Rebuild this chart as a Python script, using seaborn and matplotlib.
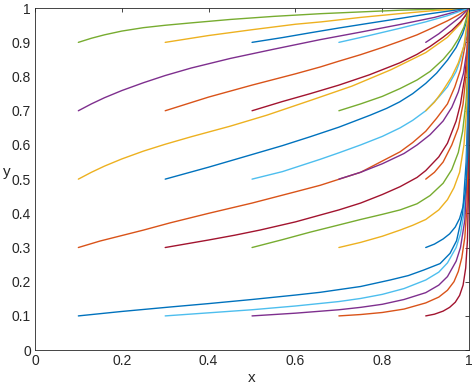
import numpy as np
import pandas as pd
import matplotlib
matplotlib.use("Agg")
import matplotlib.pyplot as plt
import seaborn as sns

# curves, ordered by start x then start y
curves_x = [
    # x0 = 0.1
    [0.1, 0.2, 0.311, 0.4, 0.5, 0.6, 0.657, 0.75, 0.818, 0.86, 0.895, 0.933, 0.956, 0.971, 0.985, 0.993, 0.998, 1.0],
    [0.1, 0.15, 0.2, 0.25, 0.311, 0.4, 0.5, 0.6, 0.657, 0.75, 0.841, 0.87, 0.9, 0.925, 0.95, 0.967, 0.98, 0.995, 1.0],
    [0.1, 0.13, 0.16, 0.2, 0.25, 0.3, 0.36, 0.45, 0.534, 0.634, 0.73, 0.82, 0.9, 0.95, 0.98, 1.0],
    [0.1, 0.13, 0.16, 0.2, 0.25, 0.3, 0.36, 0.45, 0.55, 0.657, 0.75, 0.84, 0.92, 1.0],
    [0.1, 0.13, 0.16, 0.2, 0.25, 0.3, 0.36, 0.45, 0.55, 0.66, 0.75, 0.84, 0.92, 1.0],
    # x0 = 0.3
    [0.3, 0.4, 0.5, 0.6, 0.7, 0.75, 0.8, 0.85, 0.9, 0.93, 0.95, 0.97, 0.98, 0.988, 0.994, 0.998, 1.0],
    [0.3, 0.35, 0.4, 0.46, 0.518, 0.6, 0.657, 0.7, 0.75, 0.8, 0.841, 0.88, 0.9, 0.93, 0.95, 0.97, 0.98, 0.99, 0.996, 1.0],
    [0.3, 0.4, 0.5, 0.57, 0.634, 0.7, 0.772, 0.81, 0.84, 0.87, 0.9, 0.925, 0.95, 0.97, 0.985, 0.995, 1.0],
    [0.3, 0.4, 0.5, 0.6, 0.657, 0.7, 0.75, 0.8, 0.84, 0.88, 0.92, 0.95, 0.975, 1.0],
    [0.3, 0.4, 0.5, 0.6, 0.66, 0.75, 0.84, 0.92, 1.0],
    # x0 = 0.5
    [0.5, 0.6, 0.7, 0.75, 0.8, 0.85, 0.9, 0.93, 0.95, 0.97, 0.98, 0.99, 0.995, 0.999, 1.0],
    [0.5, 0.57, 0.634, 0.7, 0.75, 0.8, 0.841, 0.88, 0.91, 0.94, 0.96, 0.975, 0.985, 0.993, 0.998, 1.0],
    [0.5, 0.57, 0.657, 0.7, 0.75, 0.8, 0.841, 0.87, 0.9, 0.93, 0.95, 0.97, 0.98, 0.99, 0.997, 1.0],
    [0.5, 0.57, 0.634, 0.7, 0.77, 0.84, 0.88, 0.91, 0.94, 0.96, 0.98, 0.993, 1.0],
    [0.5, 0.57, 0.634, 0.7, 0.77, 0.841, 0.9, 0.95, 1.0],
    # x0 = 0.7
    [0.7, 0.75, 0.8, 0.85, 0.9, 0.93, 0.95, 0.965, 0.975, 0.983, 0.99, 0.995, 0.998, 1.0],
    [0.7, 0.75, 0.8, 0.841, 0.87, 0.9, 0.93, 0.95, 0.965, 0.978, 0.988, 0.995, 0.999, 1.0],
    [0.7, 0.75, 0.8, 0.85, 0.88, 0.91, 0.94, 0.96, 0.975, 0.987, 0.995, 1.0],
    [0.7, 0.75, 0.8, 0.841, 0.88, 0.91, 0.94, 0.96, 0.975, 0.988, 1.0],
    [0.7, 0.77, 0.84, 0.9, 0.95, 1.0],
    # x0 = 0.9
    [0.9, 0.92, 0.94, 0.955, 0.968, 0.978, 0.986, 0.992, 0.996, 0.999, 1.0],
    [0.9, 0.92, 0.94, 0.955, 0.968, 0.978, 0.986, 0.992, 0.997, 1.0],
    [0.9, 0.92, 0.94, 0.96, 0.975, 0.986, 0.994, 1.0],
    [0.9, 0.92, 0.94, 0.96, 0.975, 0.988, 1.0],
    [0.9, 0.93, 0.96, 0.98, 1.0],
]
curves_y = [
    [0.1, 0.113, 0.126, 0.136, 0.148, 0.161, 0.169, 0.186, 0.205, 0.218, 0.234, 0.253, 0.283, 0.32, 0.4, 0.55, 0.75, 1.0],
    [0.3, 0.319, 0.335, 0.351, 0.372, 0.4, 0.43, 0.463, 0.482, 0.52, 0.58, 0.607, 0.64, 0.678, 0.72, 0.77, 0.82, 0.92, 1.0],
    [0.5, 0.52, 0.538, 0.559, 0.582, 0.602, 0.624, 0.655, 0.687, 0.73, 0.772, 0.82, 0.87, 0.915, 0.955, 1.0],
    [0.7, 0.72, 0.738, 0.759, 0.782, 0.803, 0.825, 0.853, 0.88, 0.908, 0.93, 0.952, 0.973, 1.0],
    [0.9, 0.912, 0.922, 0.933, 0.943, 0.95, 0.957, 0.967, 0.976, 0.984, 0.989, 0.994, 0.997, 1.0],
    [0.1, 0.109, 0.118, 0.129, 0.142, 0.151, 0.163, 0.18, 0.205, 0.228, 0.255, 0.3, 0.34, 0.4, 0.5, 0.7, 1.0],
    [0.3, 0.311, 0.322, 0.336, 0.351, 0.375, 0.395, 0.41, 0.43, 0.455, 0.478, 0.505, 0.525, 0.565, 0.605, 0.67, 0.72, 0.8, 0.88, 1.0],
    [0.5, 0.535, 0.572, 0.598, 0.624, 0.652, 0.687, 0.707, 0.726, 0.75, 0.78, 0.81, 0.848, 0.885, 0.925, 0.965, 1.0],
    [0.7, 0.74, 0.775, 0.808, 0.828, 0.845, 0.864, 0.885, 0.903, 0.922, 0.945, 0.963, 0.98, 1.0],
    [0.9, 0.92, 0.937, 0.953, 0.96, 0.973, 0.984, 0.993, 1.0],
    [0.1, 0.108, 0.118, 0.125, 0.134, 0.148, 0.168, 0.19, 0.215, 0.26, 0.3, 0.38, 0.5, 0.7, 1.0],
    [0.3, 0.323, 0.345, 0.366, 0.382, 0.397, 0.41, 0.428, 0.452, 0.488, 0.528, 0.578, 0.64, 0.73, 0.85, 1.0],
    [0.5, 0.522, 0.558, 0.577, 0.6, 0.625, 0.65, 0.672, 0.7, 0.74, 0.77, 0.815, 0.85, 0.9, 0.95, 1.0],
    [0.7, 0.727, 0.75, 0.775, 0.805, 0.84, 0.865, 0.888, 0.915, 0.935, 0.96, 0.98, 1.0],
    [0.9, 0.914, 0.928, 0.942, 0.956, 0.97, 0.982, 0.991, 1.0],
    [0.1, 0.104, 0.11, 0.12, 0.138, 0.155, 0.175, 0.2, 0.23, 0.27, 0.33, 0.42, 0.6, 1.0],
    [0.3, 0.315, 0.333, 0.351, 0.365, 0.382, 0.41, 0.44, 0.475, 0.52, 0.6, 0.72, 0.87, 1.0],
    [0.5, 0.52, 0.545, 0.575, 0.6, 0.63, 0.67, 0.71, 0.755, 0.81, 0.88, 1.0],
    [0.7, 0.72, 0.742, 0.765, 0.79, 0.815, 0.85, 0.88, 0.91, 0.945, 1.0],
    [0.9, 0.92, 0.941, 0.96, 0.978, 1.0],
    [0.1, 0.105, 0.114, 0.125, 0.14, 0.16, 0.19, 0.24, 0.32, 0.5, 1.0],
    [0.3, 0.31, 0.325, 0.34, 0.36, 0.385, 0.42, 0.47, 0.58, 1.0],
    [0.5, 0.52, 0.55, 0.6, 0.65, 0.72, 0.82, 1.0],
    [0.7, 0.725, 0.76, 0.8, 0.84, 0.89, 1.0],
    [0.9, 0.925, 0.955, 0.975, 1.0],
]

matlab_colors = ["#0072BD", "#D95319", "#EDB120", "#7E2F8E",
                 "#77AC30", "#4DBEEE", "#A2142F"]

rows = []
for i, (xs, ys) in enumerate(zip(curves_x, curves_y)):
    for order, (xv, yv) in enumerate(zip(xs, ys)):
        rows.append({"curve": i, "order": order, "x": xv, "y": yv})
df = pd.DataFrame(rows)
palette = [matlab_colors[i % 7] for i in range(len(curves_x))]

sns.set_style("white")
plt.rcParams["font.family"] = ["Liberation Sans", "DejaVu Sans"]

fig = plt.figure(figsize=(4.72, 3.89), dpi=100)
ax = fig.add_axes([0.074, 0.10, 0.920, 0.879])
sns.lineplot(data=df, x="x", y="y", hue="curve", units="curve", palette=palette,
             sort=False, estimator=None, legend=False, linewidth=1.0, ax=ax)

ax.set_xlim(0, 1)
ax.set_ylim(0, 1)
ax.set_xticks(np.arange(0, 1.01, 0.2))
ax.set_xticklabels(["0", "0.2", "0.4", "0.6", "0.8", "1"])
ax.set_yticks(np.arange(0, 1.01, 0.1))
ax.set_yticklabels(["0", "0.1", "0.2", "0.3", "0.4", "0.5", "0.6", "0.7", "0.8", "0.9", "1"])
ax.tick_params(direction="in", length=3, width=0.6, top=True, right=True,
               labelsize=10, colors="#262626", pad=3)
for s in ax.spines.values():
    s.set_color("#262626")
    s.set_linewidth(0.6)
ax.set_xlabel("x", fontsize=11, color="#262626", labelpad=2)
ax.set_ylabel("y", fontsize=11, color="#262626", rotation=0, labelpad=3)

fig.savefig("out.png", dpi=100)
